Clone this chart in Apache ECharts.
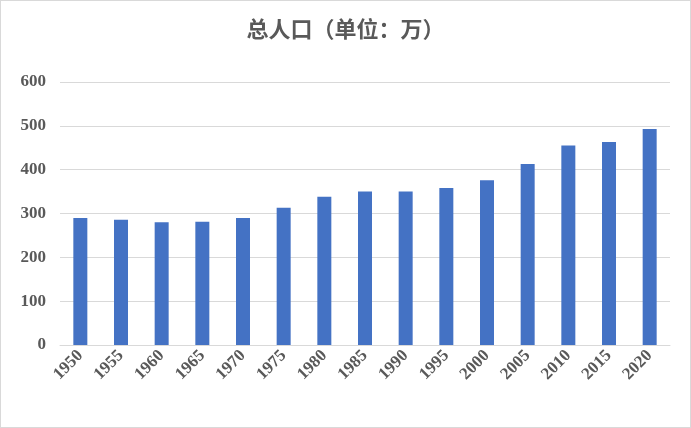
<!DOCTYPE html>
<html><head><meta charset="utf-8">
<script src="https://cdn.jsdelivr.net/npm/echarts@6/dist/echarts.min.js"></script>
<style>html,body{margin:0;padding:0;background:#fff}#c{width:689px;height:426px;border:1px solid #d9d9d9}</style>
</head><body><div id="c"></div>
<script>
const categories=['1950','1955','1960','1965','1970','1975','1980','1985','1990','1995','2000','2005','2010','2015','2020'];
const population=[290,286,280,281,290,313,338,350,350,358,376,413,455,463,493];
const yTicks=[0,100,200,300,400,500,600];
const chart=echarts.init(document.getElementById('c'));
chart.setOption({
  animation:false,
  title:{text:'总人口（单位：万）',left:'center',top:12,textStyle:{fontFamily:'Noto Sans CJK SC',fontWeight:'bold',fontSize:22,color:'#595959'}},
  grid:{left:59,right:20,top:81,bottom:82},
  xAxis:{type:'category',data:categories,axisTick:{show:false},axisLine:{lineStyle:{color:'#d9d9d9'}},
    axisLabel:{rotate:45,fontFamily:'Liberation Serif',fontWeight:'bold',fontSize:17,color:'#595959',margin:8,interval:0}},
  yAxis:{type:'value',min:yTicks[0],max:yTicks[yTicks.length-1],interval:100,
    axisLabel:{fontFamily:'Liberation Serif',fontWeight:'bold',fontSize:17,color:'#595959',margin:14},
    splitLine:{lineStyle:{color:'#d9d9d9'}}},
  series:[{type:'bar',data:population,barWidth:14,itemStyle:{color:'#4472c4'}}]
});
</script></body></html>
